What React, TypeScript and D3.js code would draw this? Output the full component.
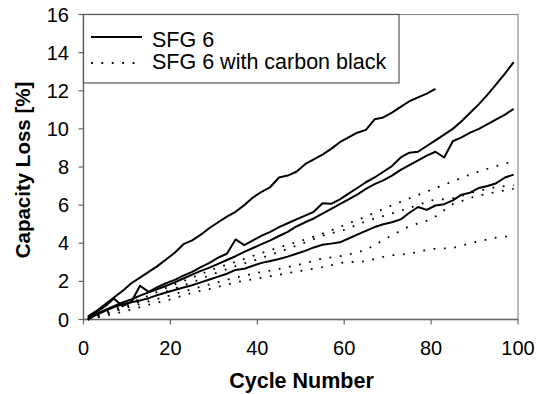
import React from "react";
import * as d3 from "d3";

type Pt = [number, number];

const xTicks = [0, 20, 40, 60, 80, 100];
const yTicks = [0, 2, 4, 6, 8, 10, 12, 14, 16];

const legendLabels = ["SFG 6", "SFG 6 with carbon black"];

// SFG 6 (solid)
const sfgA: Pt[] = [[1,0.15],[3,0.45],[5,0.8],[7,1.15],[9,1.5],[11,1.9],[13,2.2],[15,2.5],[17,2.8],[19,3.15],[21,3.5],[23,3.95],[25,4.15],[27,4.45],[29,4.8],[31,5.1],[33,5.4],[35,5.65],[37,6.0],[39,6.4],[41,6.7],[43,6.95],[45,7.45],[47,7.55],[49,7.75],[51,8.15],[53,8.4],[55,8.65],[57,8.95],[59,9.3],[61,9.55],[63,9.8],[65,9.95],[67,10.5],[69,10.6],[71,10.85],[73,11.15],[75,11.45],[77,11.65],[79,11.85],[81,12.1]];
const sfgB: Pt[] = [[1,0.1],[3,0.4],[5,0.7],[7,1.1],[9,0.7],[11,0.92],[13,1.77],[15,1.45],[17,1.7],[19,1.9],[21,2.08],[23,2.3],[25,2.5],[27,2.75],[29,2.97],[31,3.25],[33,3.45],[35,4.2],[37,3.9],[39,4.15],[41,4.4],[43,4.6],[45,4.85],[47,5.05],[49,5.25],[51,5.45],[53,5.65],[55,6.1],[57,6.07],[59,6.3],[61,6.6],[63,6.9],[65,7.2],[67,7.45],[69,7.75],[71,8.05],[73,8.5],[75,8.75],[77,8.8],[79,9.1],[81,9.4],[83,9.7],[85,10.0],[87,10.4],[89,10.85],[91,11.3],[93,11.8],[95,12.35],[97,12.9],[99,13.5]];
const sfgC: Pt[] = [[1,0.05],[3,0.3],[5,0.5],[7,0.7],[9,0.9],[11,1.05],[13,1.25],[15,1.42],[17,1.6],[19,1.76],[21,1.95],[23,2.15],[25,2.35],[27,2.55],[29,2.72],[31,2.92],[33,3.12],[35,3.32],[37,3.55],[39,3.75],[41,3.95],[43,4.15],[45,4.38],[47,4.6],[49,4.88],[51,5.1],[53,5.3],[55,5.55],[57,5.8],[59,6.05],[61,6.3],[63,6.55],[65,6.85],[67,7.1],[69,7.3],[71,7.55],[73,7.85],[75,8.1],[77,8.35],[79,8.6],[81,8.8],[83,8.5],[85,9.35],[87,9.55],[89,9.8],[91,10.0],[93,10.25],[95,10.5],[97,10.75],[99,11.05]];
const sfgD: Pt[] = [[1,0],[3,0.25],[5,0.45],[7,0.65],[9,0.8],[11,0.9],[13,1.0],[15,1.12],[17,1.28],[19,1.42],[21,1.55],[23,1.68],[25,1.8],[27,1.95],[29,2.1],[31,2.25],[33,2.4],[35,2.6],[37,2.66],[39,2.82],[41,2.97],[43,3.07],[45,3.17],[47,3.3],[49,3.45],[51,3.6],[53,3.78],[55,3.92],[57,3.98],[59,4.05],[61,4.25],[63,4.45],[65,4.65],[67,4.85],[69,5.0],[71,5.1],[73,5.25],[75,5.6],[77,5.9],[79,5.75],[81,5.98],[83,6.05],[85,6.25],[87,6.55],[89,6.65],[91,6.9],[93,7.0],[95,7.15],[97,7.45],[99,7.6]];

// SFG 6 with carbon black (dotted)
const cbE: Pt[] = [[1,0],[5,0.35],[10,0.8],[15,1.25],[20,1.75],[25,2.2],[30,2.65],[35,3.02],[40,3.42],[45,3.78],[50,4.12],[55,4.5],[60,4.95],[65,5.4],[70,5.9],[75,6.35],[80,6.8],[85,7.25],[90,7.7],[95,8.05],[99,8.3]];
const cbF: Pt[] = [[1,0],[5,0.3],[10,0.7],[15,1.1],[20,1.55],[25,1.95],[30,2.4],[35,2.8],[40,3.15],[45,3.55],[50,3.95],[55,4.4],[60,4.7],[65,5.15],[70,5.5],[75,5.85],[80,6.25],[85,6.35],[90,6.7],[95,6.95],[99,7.05]];
const cbG: Pt[] = [[1,0],[5,0.28],[10,0.62],[15,0.95],[20,1.27],[25,1.6],[30,1.9],[35,2.2],[40,2.45],[45,2.65],[50,2.9],[55,3.2],[60,3.35],[65,3.65],[70,4.3],[75,4.9],[80,5.25],[85,6.05],[90,6.45],[95,6.7],[99,6.85]];
const cbH: Pt[] = [[1,0],[5,0.2],[10,0.45],[15,0.78],[20,1.05],[25,1.4],[30,1.65],[35,1.95],[40,2.15],[45,2.35],[50,2.55],[55,2.75],[60,3.0],[65,3.05],[70,3.35],[75,3.45],[80,3.7],[85,3.75],[90,4.05],[95,4.3],[99,4.4]];

const solidSeries = [sfgA, sfgB, sfgC, sfgD];
const dottedSeries = [cbE, cbF, cbG, cbH];

const W = 537;
const H = 394;
const L = 83.5, R = 518, T = 14.5, B = 319.5;

export default function App() {
  const x = d3.scaleLinear().domain([0, 100]).range([L, R]);
  const y = d3.scaleLinear().domain([0, 16]).range([B, T]);
  const line = d3.line<Pt>().x(d => x(d[0])).y(d => y(d[1]));
  const font = "'Liberation Sans', Arial, Helvetica, sans-serif";
  const dotDash = "1.8 8.6";

  return (
    <svg width={W} height={H} style={{ position: "absolute", left: 0, top: 0, background: "#fff" }} fontFamily={font}>
      <rect x={0} y={0} width={W} height={H} fill="#fff" />
      {/* frame */}
      <rect x={L} y={T} width={R - L} height={B - T} fill="none" stroke="#8a8a8a" strokeWidth={1.2} />
      <line x1={L} x2={L} y1={T} y2={B} stroke="#666" strokeWidth={1.3} />
      <line x1={L} x2={R} y1={B} y2={B} stroke="#666" strokeWidth={1.3} />
      {yTicks.map(t => (
        <g key={"y" + t}>
          <line x1={L - 5} x2={L} y1={y(t)} y2={y(t)} stroke="#666" strokeWidth={1.2} />
          <text x={69} y={y(t) + 7} textAnchor="end" fontSize={20}>{t}</text>
        </g>
      ))}
      {xTicks.map(t => (
        <g key={"x" + t}>
          <line x1={x(t)} x2={x(t)} y1={B} y2={B + 5} stroke="#666" strokeWidth={1.2} />
          <text x={x(t)} y={355} textAnchor="middle" fontSize={20}>{t}</text>
        </g>
      ))}
      {/* series */}
      {dottedSeries.map((s, i) => (
        <path key={"d" + i} d={line(s) || ""} fill="none" stroke="#000" strokeWidth={1.8} strokeDasharray={dotDash} />
      ))}
      {solidSeries.map((s, i) => (
        <path key={"s" + i} d={line(s) || ""} fill="none" stroke="#000" strokeWidth={2} strokeLinejoin="round" />
      ))}
      {/* legend */}
      <rect x={L} y={T} width={399 - L} height={83 - T} fill="#fff" stroke="#555" strokeWidth={1.2} />
      <line x1={91} x2={142} y1={37} y2={37} stroke="#000" strokeWidth={2} />
      <line x1={91} x2={142} y1={63} y2={63} stroke="#000" strokeWidth={1.8} strokeDasharray={dotDash} />
      <text x={152} y={46.5} fontSize={21.5}>{legendLabels[0]}</text>
      <text x={152} y={68.5} fontSize={21.5}>{legendLabels[1]}</text>
      {/* axis titles */}
      <text x={301.5} y={388} textAnchor="middle" fontSize={21.5} fontWeight="bold">Cycle Number</text>
      <text transform="translate(29.5,170) rotate(-90)" textAnchor="middle" fontSize={20.5} fontWeight="bold">Capacity Loss [%]</text>
    </svg>
  );
}
